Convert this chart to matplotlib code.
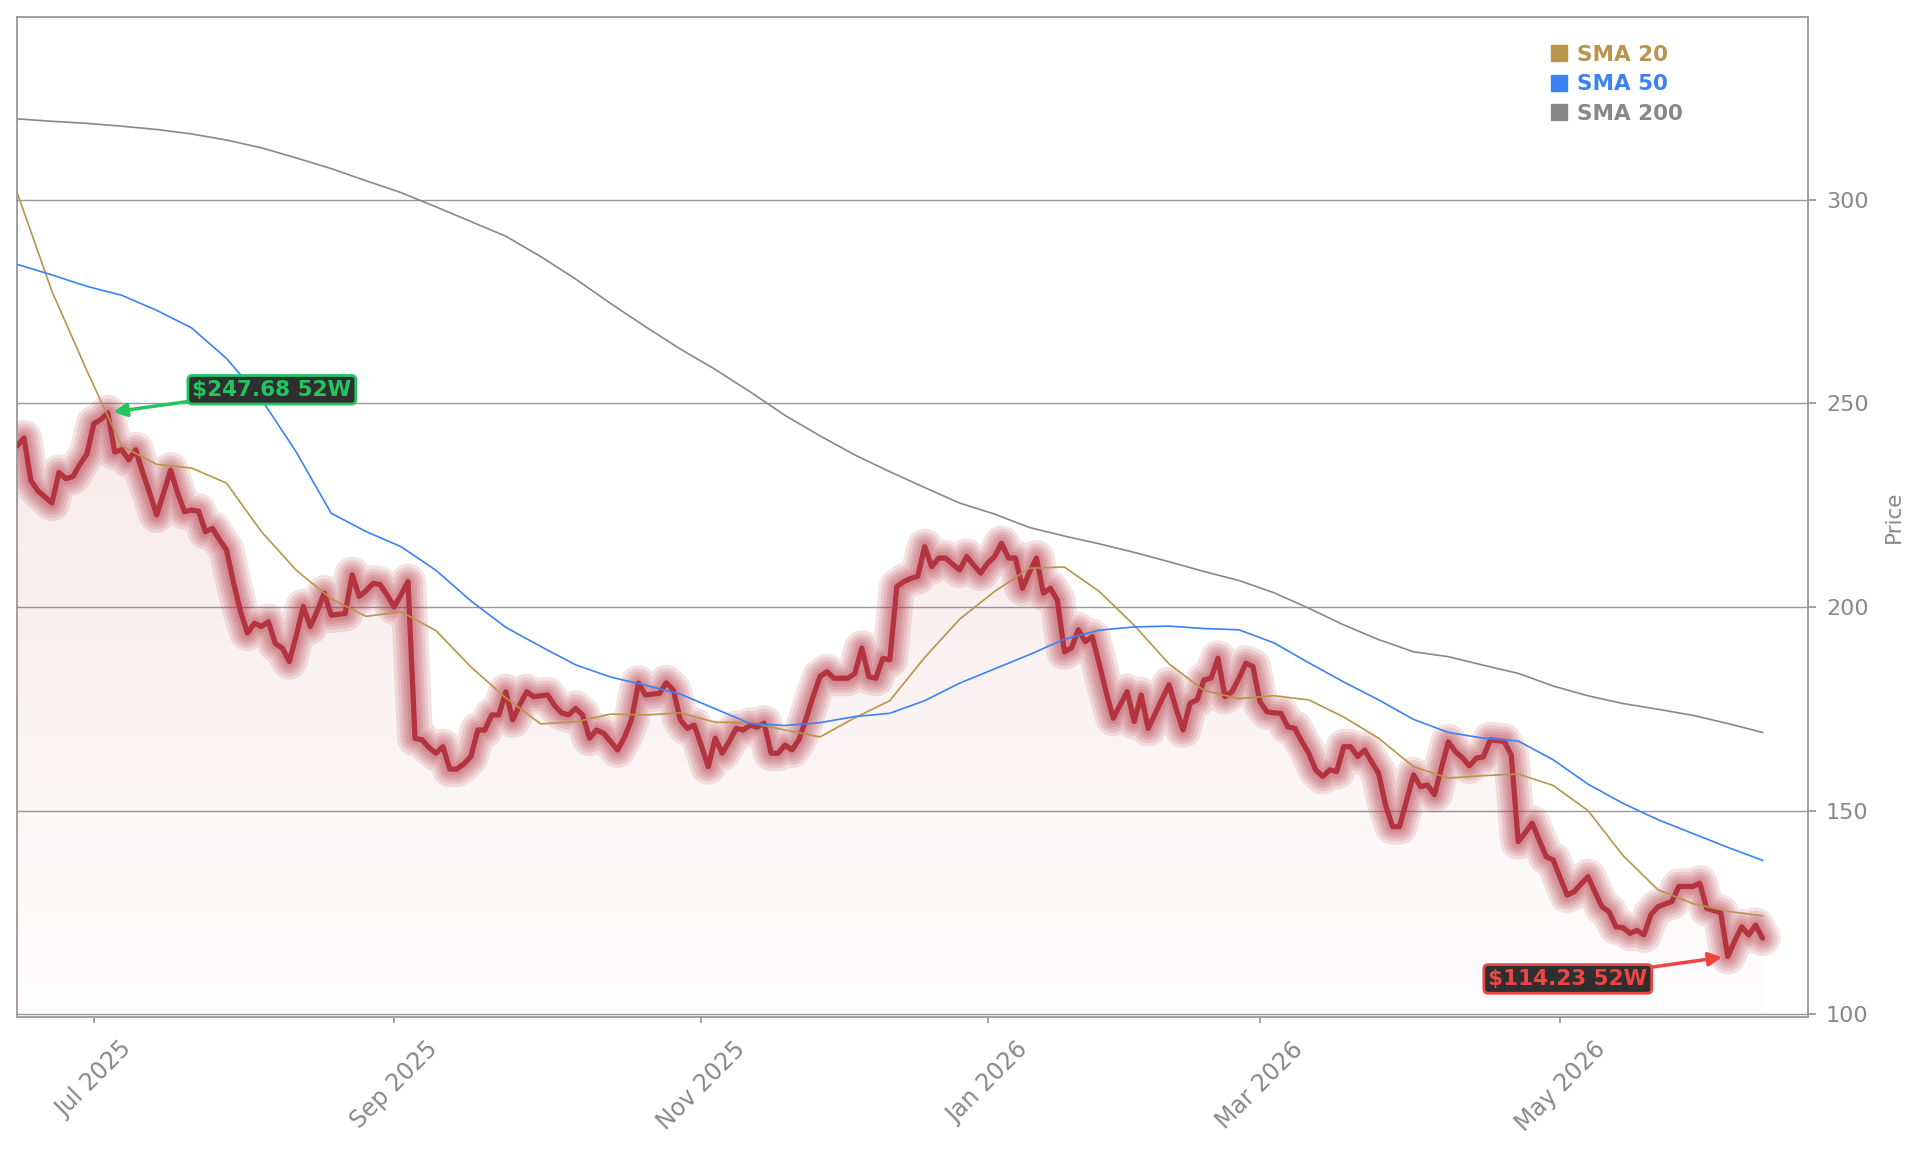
import numpy as np
import pandas as pd
import matplotlib
matplotlib.use("Agg")
import matplotlib.pyplot as plt
from matplotlib.patches import Polygon
from matplotlib.lines import Line2D

# daily closes, one per trading day starting 2025-06-13
price = [
    239.5, 241.5, 231.0, 228.5, 227.0, 225.5, 233.0, 231.5, 232.0, 235.0,
    237.5, 245.0, 246.0, 247.68, 238.0, 238.6, 236.1, 238.6, 233.0, 228.0,
    222.6, 228.0, 233.6, 228.0, 223.4, 223.8, 223.5, 218.5, 219.3, 216.5,
    214.0, 206.0, 199.0, 193.6, 196.0, 195.2, 196.4, 191.0, 189.9, 186.6,
    193.0, 200.1, 195.2, 199.0, 203.4, 198.0, 198.2, 198.4, 207.9, 202.6,
    204.0, 205.8, 205.5, 203.0, 200.0, 203.0, 206.2, 167.8, 167.4, 165.5,
    164.1, 165.7, 160.2, 160.2, 161.5, 163.3, 169.8, 169.8, 173.5, 173.5,
    179.2, 172.3, 176.0, 179.2, 178.0, 178.2, 178.4, 175.8, 174.0, 173.5,
    175.1, 173.5, 167.8, 169.8, 169.0, 167.0, 164.9, 168.0, 172.3, 181.3,
    178.4, 178.6, 178.8, 181.4, 179.6, 172.3, 170.2, 171.0, 166.0, 160.8,
    167.8, 164.1, 167.0, 170.2, 169.8, 171.0, 170.5, 171.5, 164.1, 164.1,
    166.1, 164.9, 167.5, 172.5, 178.0, 182.9, 184.1, 182.5, 182.5, 182.5,
    183.7, 189.9, 182.9, 182.5, 187.4, 187.0, 205.0, 206.2, 207.0, 207.5,
    214.8, 209.9, 212.0, 212.0, 210.5, 209.1, 212.4, 210.3, 208.3, 210.7,
    212.4, 215.6, 212.0, 212.0, 204.6, 208.5, 212.0, 203.4, 204.6, 201.7,
    189.0, 189.9, 194.4, 191.5, 192.7, 186.0, 179.0, 172.7, 176.0, 179.2,
    171.9, 178.4, 170.2, 173.8, 177.4, 180.9, 175.0, 169.8, 176.4, 177.2,
    182.1, 182.5, 187.4, 178.0, 179.2, 182.5, 186.2, 185.4, 176.8, 174.3,
    174.0, 173.9, 170.6, 170.2, 167.0, 164.1, 160.0, 158.4, 160.0, 159.6,
    165.7, 165.7, 163.3, 164.9, 162.0, 159.2, 151.4, 146.1, 146.1, 152.5,
    158.8, 155.9, 156.3, 153.9, 160.5, 166.9, 164.5, 163.0, 161.0, 162.9,
    163.2, 167.4, 167.2, 167.0, 163.7, 142.4, 144.6, 146.9, 142.8, 138.7,
    137.9, 133.6, 129.3, 130.1, 132.0, 133.8, 130.0, 126.4, 125.2, 121.5,
    121.3, 119.9, 120.6, 119.5, 124.5, 126.4, 127.1, 127.7, 131.4, 131.4,
    131.4, 132.2, 126.0, 125.5, 125.0, 114.23, 118.0, 121.5, 119.5, 121.9,
    118.7,
]

# moving averages, read every 5th trading day
sma20 = [
    301.8, 277.5, 258.0, 239.5, 235.0, 234.1, 230.4, 218.5, 209.0, 202.0,
    197.7, 198.8, 194.2, 185.3, 177.7, 171.3, 171.8, 173.7, 173.5, 174.0,
    171.7, 171.6, 169.8, 168.1, 172.8, 177.0, 187.6, 197.0, 203.8, 209.5,
    209.8, 203.8, 195.5, 186.0, 179.5, 177.5, 178.2, 177.2, 173.0, 167.8,
    160.8, 158.0, 158.6, 159.0, 156.2, 150.0, 139.0, 130.6, 127.2, 125.3,
    124.2,
]
sma50 = [
    284.1, 281.5, 278.7, 276.5, 272.8, 268.5, 261.0, 251.0, 238.0, 223.0,
    218.5, 214.8, 209.0, 201.5, 195.0, 190.3, 185.8, 182.8, 180.8, 178.6,
    175.0, 171.4, 170.9, 171.6, 173.1, 173.9, 177.0, 181.3, 184.8, 188.3,
    192.1, 194.3, 195.1, 195.3, 194.7, 194.4, 191.2, 186.3, 181.6, 177.2,
    172.4, 169.2, 167.8, 167.1, 162.5, 156.5, 151.8, 147.8, 144.4, 141.0,
    137.8,
]
sma200 = [
    319.8, 319.2, 318.7, 318.0, 317.2, 316.1, 314.6, 312.7, 310.2, 307.6,
    304.6, 301.7, 298.2, 294.6, 291.0, 286.0, 280.5, 274.5, 268.8, 263.3,
    258.3, 252.8, 247.0, 242.0, 237.3, 233.2, 229.3, 225.5, 222.8, 219.5,
    217.4, 215.5, 213.4, 211.1, 208.7, 206.5, 203.5, 199.7, 195.6, 192.0,
    189.0, 187.8, 185.7, 183.7, 180.6, 178.2, 176.3, 174.9, 173.4, 171.4,
    169.2,
]
sma_step = 5

holidays = ["2025-06-19", "2025-07-04", "2025-09-01", "2025-11-27", "2025-12-25",
            "2026-01-01", "2026-01-19", "2026-02-16", "2026-04-03", "2026-05-25"]
tick_months = ["2025-07-01", "2025-09-01", "2025-11-01", "2026-01-01", "2026-03-01", "2026-05-01"]

PRICE_RED = "#b3343f"
GOLD = "#b8944c"
BLUE = "#3b82f6"
GRAY = "#888888"
GREEN = "#22c55e"
RED = "#ef4444"
AXIS = "#999999"
TEXT = "#888888"

dates = pd.bdate_range("2025-06-13", periods=len(price), freq="C", holidays=holidays)
x = np.arange(len(price))
px = np.array(price)
sx = np.arange(len(sma20)) * sma_step

fig = plt.figure(figsize=(19.21, 11.53), dpi=100)
ax = fig.add_axes([17 / 1921, 1 - 1017 / 1153, 1791 / 1921, 1000 / 1153])
ax.set_xlim(0, 256.5)
ax.set_ylim(99.36, 344.8)

# gradient fill under the price
y_bot = ax.get_ylim()[0]
verts = [(x[0], y_bot)] + list(zip(x, px)) + [(x[-1], y_bot)]
clip = Polygon(verts, closed=True, facecolor="none", edgecolor="none")
ax.add_patch(clip)
rgb = matplotlib.colors.to_rgb(PRICE_RED)
grad = np.zeros((256, 1, 4))
grad[:, 0, :3] = rgb
grad[:, 0, 3] = np.linspace(0.01, 0.11, 256)
img = ax.imshow(grad, extent=[x[0], x[-1], y_bot, 250], origin="lower",
                aspect="auto", zorder=1.5, interpolation="bilinear")
img.set_clip_path(clip)

# glow layers + core line
for w in [26, 21, 16.5, 12.5, 8.5]:
    ax.plot(x, px, color=PRICE_RED, lw=w, alpha=0.14, solid_joinstyle="round",
            solid_capstyle="round", zorder=2)
ax.plot(x, px, color=PRICE_RED, lw=3.8, solid_joinstyle="round",
        solid_capstyle="round", zorder=3)

ax.plot(sx, sma20, color=GOLD, lw=1.2, zorder=4)
ax.plot(sx, sma50, color=BLUE, lw=1.2, zorder=4)
ax.plot(sx, sma200, color=GRAY, lw=1.2, zorder=4)

# axes styling
ax.set_axisbelow(True)
ax.grid(axis="y", color=AXIS, lw=1.0)
ax.grid(axis="x", visible=False)
for s in ax.spines.values():
    s.set_color(AXIS)
    s.set_linewidth(1.3)
ax.yaxis.tick_right()
ax.yaxis.set_label_position("right")
ax.set_yticks([100, 150, 200, 250, 300])
ax.tick_params(axis="y", colors=AXIS, labelcolor=TEXT, labelsize=16, length=6, width=1.3, pad=7)
ax.set_ylabel("Price", color=TEXT, fontsize=15.5, labelpad=11)

tick_idx = [int(dates.searchsorted(pd.Timestamp(m))) for m in tick_months]
ax.set_xticks(tick_idx)
ax.set_xticklabels([dates[i].strftime("%b %Y") for i in tick_idx], rotation=45, ha="center")
ax.tick_params(axis="x", colors=AXIS, labelcolor=TEXT, labelsize=17, length=4.5, width=1.3, pad=10)

# 52-week high / low labels
imax = int(np.argmax(px))
imin = int(np.argmin(px))
ax.annotate(f"${px[imax]:.2f} 52W", xy=(imax, px[imax]), xytext=(36.5, 253.3),
            ha="center", va="center", fontsize=15.5, fontweight="bold", color=GREEN,
            bbox=dict(boxstyle="round,pad=0.2,rounding_size=0.2", fc="#2f2f2f", ec=GREEN, lw=2),
            arrowprops=dict(arrowstyle="-|>", color=GREEN, lw=2.5, mutation_scale=20,
                            shrinkA=0, shrinkB=4),
            zorder=6)
ax.annotate(f"${px[imin]:.2f} 52W", xy=(imin, px[imin]), xytext=(222.1, 108.7),
            ha="center", va="center", fontsize=15.5, fontweight="bold", color=RED,
            bbox=dict(boxstyle="round,pad=0.2,rounding_size=0.2", fc="#2f2f2f", ec=RED, lw=2),
            arrowprops=dict(arrowstyle="-|>", color=RED, lw=2.5, mutation_scale=20,
                            shrinkA=0, shrinkB=4),
            zorder=6)

handles = [Line2D([], [], marker="s", ls="none", color=c, markersize=12)
           for c in [GOLD, BLUE, GRAY]]
ax.legend(handles, ["SMA 20", "SMA 50", "SMA 200"], loc="upper left",
          bbox_to_anchor=(0.856, 0.972), frameon=False, borderpad=0, borderaxespad=0,
          handlelength=0.8, handletextpad=0.45, labelspacing=0.43,
          labelcolor=[GOLD, BLUE, GRAY], prop=dict(size=15.5, weight="bold"))

fig.savefig("out.png", dpi=100, facecolor="white")
